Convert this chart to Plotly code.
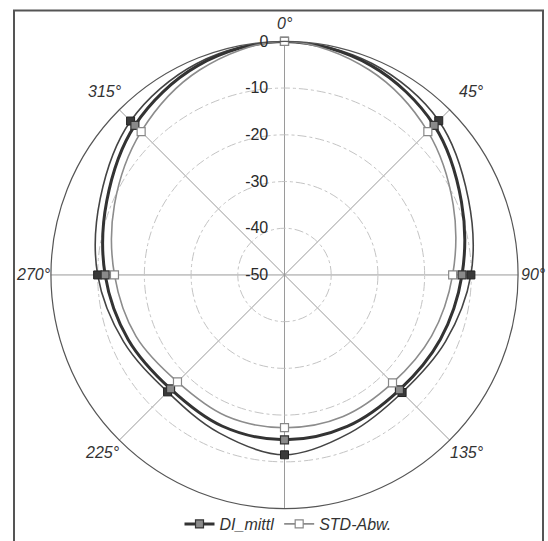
import plotly.graph_objects as go

angles = [0, 22.5, 45, 67.5, 90, 112.5, 135, 157.5,
          180, 202.5, 225, 247.5, 270, 292.5, 315, 337.5]
# Marked (measured) directions are every 45 degrees
marked_angles = [0, 45, 90, 135, 180, 225, 270, 315]
angle_labels = ["0°", "45°", "90°", "135°", "", "225°", "270°", "315°"]

# Values in dB
upper_vals = [0, -1.0, -3.3, -7.4, -10.1, -12.7, -14.4, -13.4,
              -11.5, -13.4, -14.6, -12.7, -10.0, -7.3, -3.4, -1.0]   # mean + std
di_mittl = [0, -1.5, -4.7, -9.0, -12.0, -13.9, -15.2, -14.9,
            -14.7, -15.0, -15.5, -13.8, -11.6, -8.8, -4.7, -1.5]     # DI_mittl
std_abw = [0, -2.5, -6.6, -10.9, -14.0, -15.9, -17.3, -17.2,
           -17.3, -17.3, -17.6, -15.6, -13.6, -10.6, -6.6, -2.5]     # STD-Abw.

radial_ticks = [-50, -40, -30, -20, -10, 0]
radial_labels = ["-50", "-40", "-30", "-20", "-10", "0"]

START = angles.index(180)   # spline seam at the bottom


def loop(v):
    seq = list(v[START:]) + list(v[:START])
    return seq + [seq[0]]


def marked(v):
    return [val for a, val in zip(angles, v) if a in marked_angles]


styles = [
    ("upper", upper_vals, dict(color="#444444", width=1.6),
     dict(symbol="square", size=8, color="#3a3a3a", line=dict(color="#222222", width=1)), False),
    ("DI_mittl", di_mittl, dict(color="#333333", width=3),
     dict(symbol="square", size=8, color="#8a8a8a", line=dict(color="#333333", width=1.2)), True),
    ("STD-Abw.", std_abw, dict(color="#8c8c8c", width=1.6),
     dict(symbol="square", size=8, color="#ffffff", line=dict(color="#888888", width=1.2)), True),
]

fig = go.Figure()
for name, vals, ln, mk, leg in styles:
    fig.add_trace(go.Scatterpolar(
        r=loop(vals), theta=loop(angles), mode="lines",
        line=dict(shape="spline", smoothing=1, **ln),
        showlegend=False, hoverinfo="skip", name=name))
    fig.add_trace(go.Scatterpolar(
        r=marked(vals), theta=marked(angles), mode="markers",
        marker=mk, showlegend=False, name=name))
    if leg:
        fig.add_trace(go.Scatterpolar(
            r=[None], theta=[None], mode="lines+markers",
            line=ln, marker=mk, showlegend=True, name=name))

W, H = 548, 541
cx, cy, rad = 284.5, 277.0, 235.3

# angular labels placed like the reference (pixel positions)
label_pos = {"0°": (285, 24), "45°": (471, 92), "90°": (533, 277), "135°": (467, 456),
             "225°": (102, 456), "270°": (33, 277), "315°": (105, 92)}
annotations = [dict(text=t, x=px / W, y=1 - py / H, xref="paper", yref="paper",
                    xanchor="center", yanchor="middle", showarrow=False,
                    font=dict(size=16, style="italic", color="#333333"))
               for t, (px, py) in label_pos.items()]

fig.update_layout(
    width=W, height=H,
    margin=dict(l=0, r=0, t=0, b=0),
    paper_bgcolor="white",
    font=dict(family="Liberation Sans, Arial, sans-serif", size=15, color="#333333"),
    polar=dict(
        domain=dict(x=[(cx - rad) / W, (cx + rad) / W],
                    y=[1 - (cy + rad) / H, 1 - (cy - rad) / H]),
        bgcolor="white",
        angularaxis=dict(
            rotation=90, direction="clockwise",
            tickmode="array", tickvals=marked_angles, ticktext=angle_labels,
            showticklabels=False,
            showline=True, linecolor="#555555", linewidth=1.2,
            showgrid=True, gridcolor="#9a9a9a", gridwidth=1,
            ticks="",
        ),
        radialaxis=dict(
            range=[-50, 0], tickmode="array", tickvals=radial_ticks,
            ticktext=[s + "\u00a0\u00a0\u00a0" for s in radial_labels],
            angle=90, tickangle=90, side="counterclockwise",
            tickfont=dict(size=16, color="#2a2a2a"),
            showline=False, ticks="",
            showgrid=True, gridcolor="#c4c4c4", gridwidth=1, griddash="dashdot",
        ),
    ),
    legend=dict(
        orientation="h", x=288 / W, y=1 - 528 / H, xanchor="center", yanchor="middle",
        font=dict(size=16, style="italic", color="#333333"),
        bgcolor="rgba(0,0,0,0)",
    ),
    annotations=annotations,
    shapes=[dict(type="path", xref="paper", yref="paper",
                 path="M {0},{1} L {0},{2} L {3},{2} L {3},{1}".format(
                     14 / W, -0.05, 1 - 10.5 / H, 543 / W),
                 line=dict(color="#555555", width=2), fillcolor="rgba(0,0,0,0)")],
)

fig.write_html("out.html",
               config={"displayModeBar": False},
               post_script="document.body.style.margin='0';document.body.style.overflow='hidden';")
